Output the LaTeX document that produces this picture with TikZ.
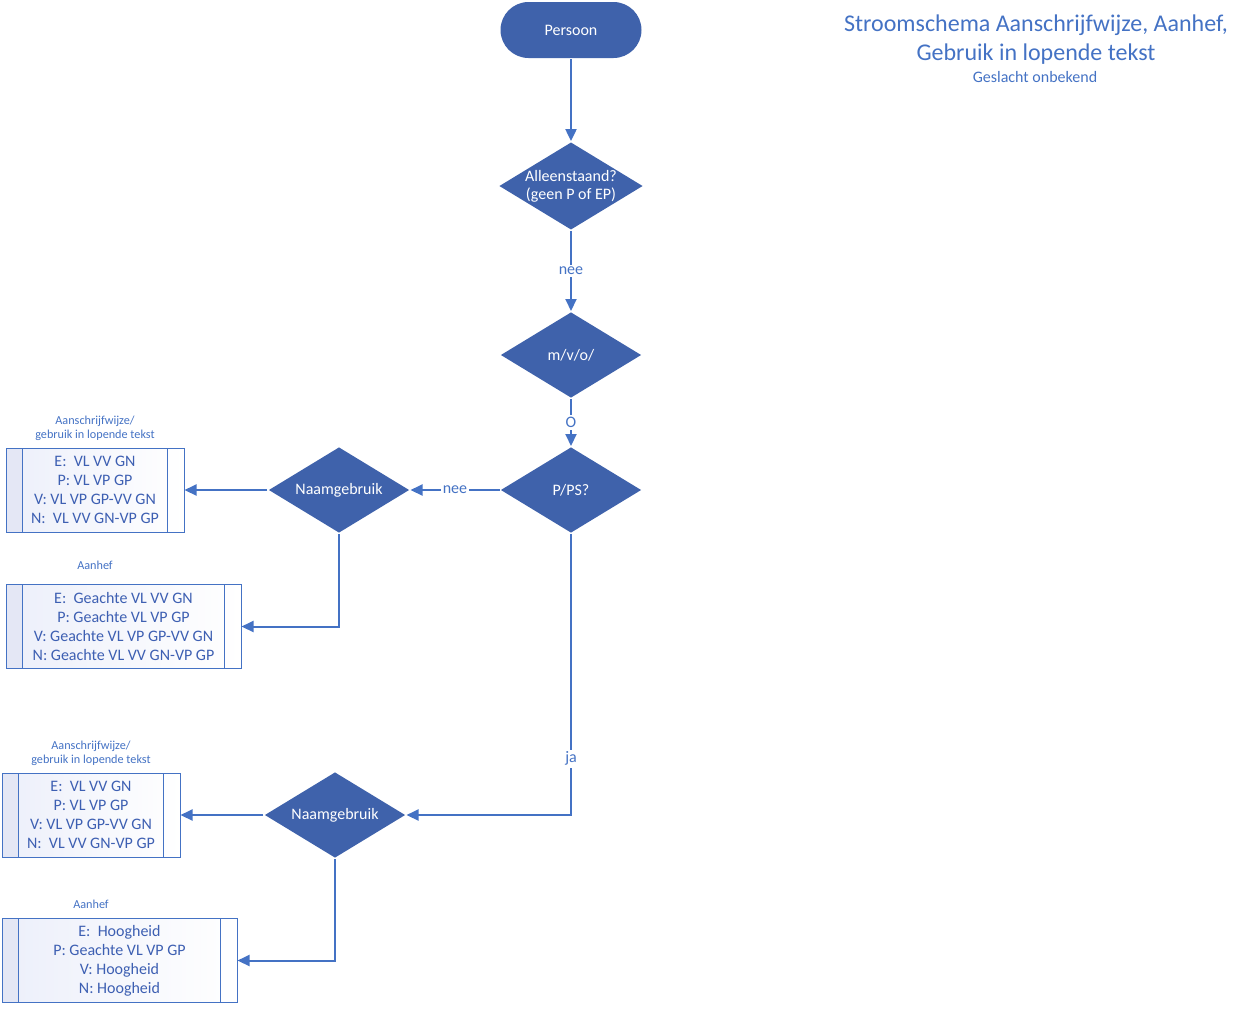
\documentclass[tikz,border=0pt]{standalone}
\usepackage{fontspec}
\setmainfont{Carlito}
\usetikzlibrary{shapes.geometric,arrows.meta,positioning}
\definecolor{vlak}{RGB}{63,98,171}
\definecolor{lijn}{RGB}{68,114,196}
\definecolor{schrift}{RGB}{61,95,178}
\definecolor{strook}{RGB}{228,231,245}
\definecolor{verloop}{RGB}{236,239,250}

\begin{document}
\begin{tikzpicture}[x=0.5pt,y=-0.5pt,->,>={Triangle[length=6pt,width=5.5pt]},draw=lijn,line width=1pt]
    \tikzstyle{every node}=[font=\fontsize{8}{9}\selectfont]
    \tikzstyle{begin}=[draw=none,fill=vlak,text=white,rounded corners=14pt,minimum width=70.5pt,minimum height=28pt]
    \tikzstyle{keuze}=[diamond,aspect=1.64,draw=none,fill=vlak,text=white,inner sep=0pt,align=center,minimum width=70.5pt,minimum height=43pt]
    \tikzstyle{lijst}=[draw=lijn,line width=.5pt,left color=verloop,right color=white,text=schrift,align=center,inner sep=0pt,
        font=\fontsize{8}{9.5}\selectfont,minimum height=42pt,
        path picture={
            \fill[strook] (path picture bounding box.north west) rectangle ([xshift=8pt]path picture bounding box.south west);
            \draw[-,lijn,line width=.5pt] ([xshift=8pt]path picture bounding box.north west) -- ([xshift=8pt]path picture bounding box.south west);
            \draw[-,lijn,line width=.5pt] ([xshift=-8.5pt]path picture bounding box.north east) -- ([xshift=-8.5pt]path picture bounding box.south east);
        }]
    \tikzstyle{kopje}=[text=lijn,align=center,font=\fontsize{6.1}{7}\selectfont]
    \tikzstyle{tekstje}=[fill=white,text=lijn,inner sep=1pt]

    \useasboundingbox (0,0) rectangle (1247,1008);

    % title
    \node[text=lijn,align=center,font=\fontsize{12}{14.5}\selectfont] (titel) at (1036,40)
        {Stroomschema Aanschrijfwijze, Aanhef,\\Gebruik in lopende tekst};
    \node[text=lijn] (sub) at (1035,77) {Geslacht onbekend};

    % main column
    \node[begin] (persoon) at (571,30) {Persoon};
    \node[keuze] (alleen) at (571,186) {Alleenstaand?\\(geen P of EP)};
    \node[keuze] (mvo) at (571,355) {m/v/o/};
    \node[keuze] (pps) at (571,490) {P/PS?};
    \node[keuze] (naam1) at (339,490) {Naamgebruik};
    \node[keuze] (naam2) at (335,815) {Naamgebruik};

    % result boxes
    \node[lijst,minimum width=89pt] (box1) at (95,490)
        {E:~ VL VV GN\\P: VL VP GP\\V: VL VP GP-VV GN\\N:~ VL VV GN-VP GP};
    \node[lijst,minimum width=117.5pt] (box2) at (123.5,626.5)
        {E:~ Geachte VL VV GN\\P: Geachte VL VP GP\\V: Geachte VL VP GP-VV GN\\N: Geachte VL VV GN-VP GP};
    \node[lijst,minimum width=89pt] (box3) at (91,815)
        {E:~ VL VV GN\\P: VL VP GP\\V: VL VP GP-VV GN\\N:~ VL VV GN-VP GP};
    \node[lijst,minimum width=117.5pt] (box4) at (119.5,960.5)
        {E:~ Hoogheid\\P: Geachte VL VP GP\\V: Hoogheid\\N: Hoogheid};

    % captions over the boxes
    \node[kopje] (kop1) at (95,428) {Aanschrijfwijze/\\gebruik in lopende tekst};
    \node[kopje] (kop2) at (95,565) {Aanhef};
    \node[kopje] (kop3) at (91,753) {Aanschrijfwijze/\\gebruik in lopende tekst};
    \node[kopje] (kop4) at (91,904) {Aanhef};

    % connectors
    \draw (persoon) -- (alleen);
    \draw (alleen) -- node[tekstje] {nee} (mvo);
    \draw (mvo) -- node[tekstje] {O} (pps);
    \draw (pps) -- node[tekstje] {nee} (naam1);
    \draw (naam1) -- (box1);
    \draw (naam1) |- (box2);
    \draw (pps) |- node[tekstje,pos=0.4] {ja} (naam2);
    \draw (naam2) -- (box3);
    \draw (naam2) |- (box4);
\end{tikzpicture}
\end{document}
